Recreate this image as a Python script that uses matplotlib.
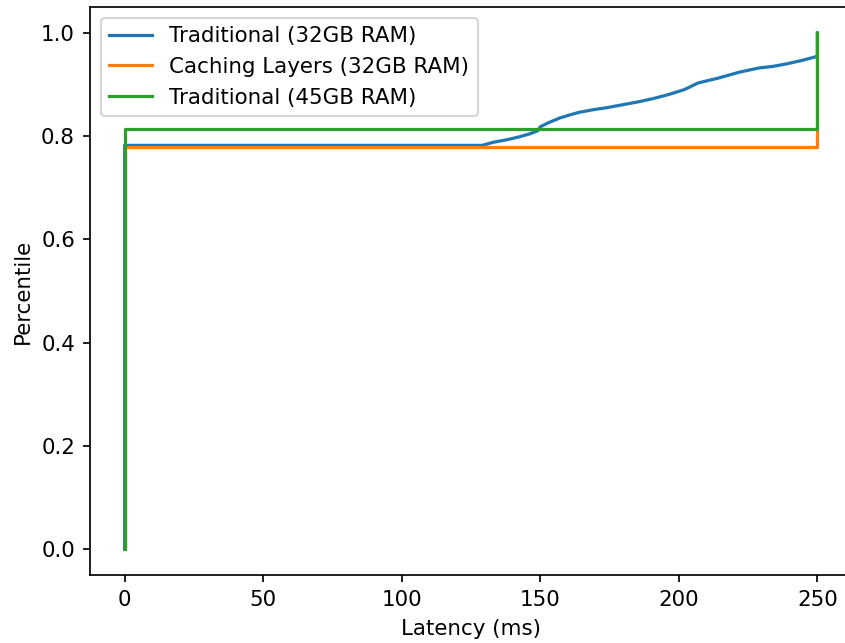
import matplotlib
matplotlib.use("Agg")
import matplotlib.pyplot as plt

# Traditional (32GB RAM): latency (ms) vs percentile
trad32_latency = [0, 0, 129, 133, 138, 142, 146, 149, 150, 153, 157, 160, 164,
                  169, 174, 180, 186, 191, 196, 202, 207, 214, 222, 229, 234,
                  239, 244, 249, 250, 250]
trad32_pct = [0.0, 0.782, 0.782, 0.788, 0.793, 0.798, 0.804, 0.810, 0.818,
              0.826, 0.835, 0.840, 0.846, 0.851, 0.855, 0.861, 0.867, 0.873,
              0.880, 0.890, 0.903, 0.912, 0.924, 0.932, 0.935, 0.940, 0.946,
              0.953, 0.955, 1.0]

# Caching Layers (32GB RAM)
cache32_latency = [0, 0, 250, 250]
cache32_pct = [0.0, 0.778, 0.778, 1.0]

# Traditional (45GB RAM)
trad45_latency = [0, 0, 250, 250]
trad45_pct = [0.0, 0.814, 0.814, 1.0]

DPI = 154
fig = plt.figure(figsize=(845 / DPI, 643 / DPI), dpi=DPI)
ax = fig.add_axes((90 / 845, 68 / 643, 762 / 845, 568 / 643))
# the reference is cropped just short of the right spine
ax.spines["right"].set_visible(False)

ax.plot(trad32_latency, trad32_pct, label="Traditional (32GB RAM)")
ax.plot(cache32_latency, cache32_pct, label="Caching Layers (32GB RAM)")
ax.plot(trad45_latency, trad45_pct, label="Traditional (45GB RAM)")

ax.set_xlabel("Latency (ms)")
ax.set_ylabel("Percentile")
ax.legend(loc="upper left")

fig.savefig("out.png", dpi=DPI)
